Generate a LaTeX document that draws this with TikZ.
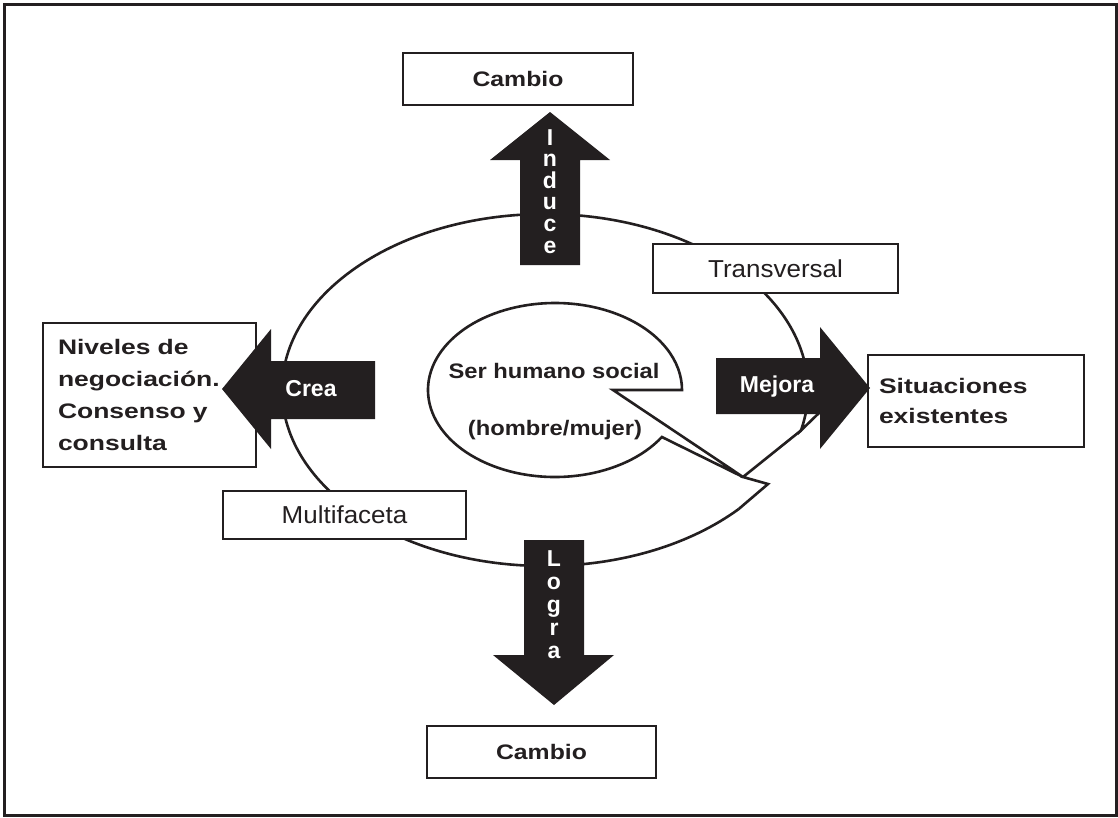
\documentclass[tikz,border=0pt]{standalone}
\usepackage{fontspec}
\setmainfont{Liberation Sans}
\newfontfamily\bfam[FakeStretch=1.18]{Liberation Sans}
\newfontfamily\bwfam[FakeStretch=1.26]{Liberation Sans}
\newfontfamily\bsfam[FakeStretch=1.13]{Liberation Sans}
\newfontfamily\rfam[FakeStretch=1.06]{Liberation Sans}
\definecolor{ink}{HTML}{231F20}
\tikzset{
  ln/.style={draw=ink, line width=2.6pt, line join=miter},
  box/.style={draw=ink, fill=white, line width=2.4pt, inner sep=0pt},
  btxt/.style={font=\bfam\bfseries\fontsize{21}{32}\selectfont, text=ink},
  bwtxt/.style={font=\bwfam\bfseries\fontsize{21}{32}\selectfont, text=ink},
  bstxt/.style={font=\bsfam\bfseries\fontsize{21}{32}\selectfont, text=ink},
  rtxt/.style={font=\rfam\fontsize{24.5}{29}\selectfont, text=ink},
  wtxt/.style={font=\bfseries\fontsize{23}{29}\selectfont, text=white, inner sep=0pt},
  blk/.style={fill=ink, draw=none},
}
\begin{document}
\begin{tikzpicture}[x=1pt, y=-1pt]
\useasboundingbox (0,0) rectangle (1118,817);
% outer frame
\draw[draw=ink, line width=3pt] (4.5,4.5) rectangle (1116.5,815);
% big callout
\draw[ln, fill=white] (545,390) ++(42.6:263 and 176) coordinate (bA)
   arc[start angle=42.6, end angle=373.3, x radius=263, y radius=176] coordinate (bB)
   -- (855,378);
\coordinate (bT1) at (743,477);
\coordinate (bT2) at (768,484);
\draw[ln] (bB) -- (bT1) -- (bT2) -- (bA);
% inner callout
\draw[ln, fill=white] (555,390) ++(32.7:127 and 87) coordinate (iA)
   arc[start angle=32.7, end angle=360, x radius=127, y radius=87] coordinate (iB)
   -- (613,390) coordinate (iN) -- (bT1) -- cycle;
\node[bstxt, align=center] (ser) at (554,371) {Ser humano social};
\node[bstxt, align=center] (hm) at (555,430) {(hombre/mujer)};
% boxes
\node[box, rtxt, minimum width=245, minimum height=49] (trans) at (775.5,268.5) {Transversal};
\node[box, rtxt, minimum width=243, minimum height=48] (multi) at (344.5,515) {Multifaceta};
\node[box, btxt, minimum width=230, minimum height=52] (cam1) at (518,79) {Cambio};
\node[box, btxt, minimum width=229, minimum height=52] (cam2) at (541.5,752) {Cambio};
\node[box, bwtxt, minimum width=213, minimum height=144, align=left, text width=183] (niv) at (149.5,395)
  {Niveles de\\negociación.\\Consenso y\\consulta};
\node[box, minimum width=216, minimum height=92, align=left, text width=194,
  font=\bwfam\bfseries\fontsize{21}{30}\selectfont, text=ink] (sit) at (976,401)
  {Situaciones\\existentes};
% arrows
\fill[blk] (520,265) -- (520,160) -- (490,160) -- (550,112) -- (610,160) -- (580,160) -- (580,265) -- cycle;
\fill[blk] (524,540) -- (524,655) -- (493,655) -- (554,705) -- (614,655) -- (584,655) -- (584,540) -- cycle;
\fill[blk] (375,361) -- (271,361) -- (271,329) -- (222,389) -- (271,449) -- (271,419) -- (375,419) -- cycle;
\fill[blk] (716,358) -- (820,358) -- (820,327) -- (870,388) -- (820,449) -- (820,414) -- (716,414) -- cycle;
\node[wtxt] (crea) at (311,389) {Crea};
\node[wtxt] (mej) at (777,387) {Mejora};
\foreach \ch [count=\i from 0] in {I,n,d,u,c,e}
  \node[wtxt, anchor=base] (ind\i) at (550,145+21.6*\i) {\ch};
\foreach \ch [count=\i from 0] in {L,o,g,r,a}
  \node[wtxt, anchor=base] (log\i) at (554,566+23*\i) {\ch};
\end{tikzpicture}
\end{document}
